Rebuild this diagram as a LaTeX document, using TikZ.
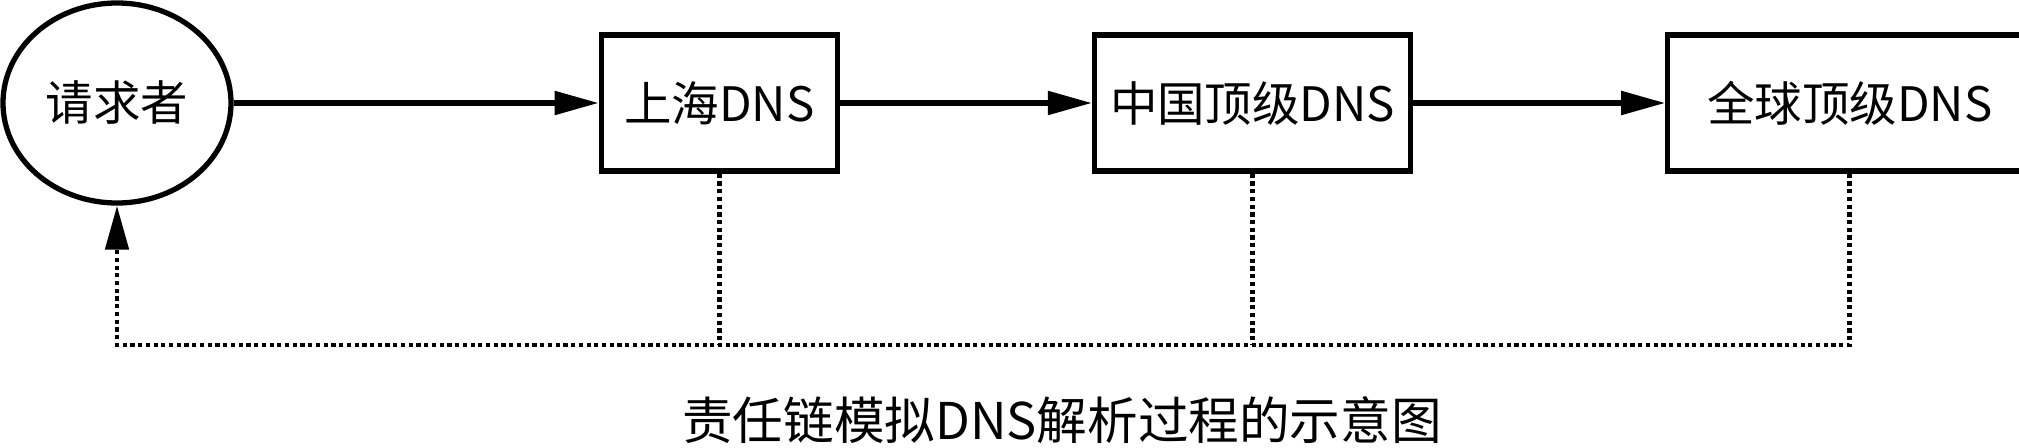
\documentclass[tikz,border=0pt]{standalone}
\usepackage{fontspec}
\setmainfont{Noto Sans CJK SC}
\usepackage{tikz}
\usetikzlibrary{positioning,arrows.meta,shapes.geometric}
\tikzset{
  req/.style={draw, ellipse, line width=1.5pt, minimum width=22.8mm, minimum height=20mm, inner sep=0pt, font=\fontsize{13.5pt}{16pt}\selectfont},
  srv/.style={draw, line width=1.5pt, minimum height=13.6mm, inner sep=2pt, font=\fontsize{13.5pt}{16pt}\selectfont},
  pass/.style={-{Triangle[length=4.4mm, width=2.3mm]}, line width=1.5pt},
  back/.style={line width=1.4pt, dash pattern=on 1.2pt off 1pt},
  title/.style={font=\fontsize{14.4pt}{17pt}\selectfont},
}
\begin{document}
\begin{tikzpicture}[node distance=25.2mm]
\useasboundingbox (0,0) rectangle (20.19,4.47);
\node[req] (asker) at (1.17,3.44) {请求者};
\node[srv, minimum width=23.6mm, right=36.5mm of asker] (shdns) {上海DNS};
\node[srv, minimum width=31.6mm, right=of shdns] (cndns) {中国顶级DNS};
\node[srv, minimum width=36.4mm, right=of cndns] (rootdns) {全球顶级DNS};
\coordinate (busl) at (asker.south |- 0,1.02);
\coordinate (busr) at (rootdns.south |- 0,1.02);
% request passed along the chain
\draw[pass] (asker) -- (shdns);
\draw[pass] (shdns) -- (cndns);
\draw[pass] (cndns) -- (rootdns);
% answers go back to the asker
\draw[back] (shdns.south) -- (shdns.south |- busl);
\draw[back] (cndns.south) -- (cndns.south |- busl);
\draw[back, -{Triangle[length=4.4mm, width=2.3mm]}] (rootdns.south) -- (busr) -- (busl) -- (asker.south);
\node[title] (caption) at (10.62,0.27) {责任链模拟DNS解析过程的示意图};
\end{tikzpicture}
\end{document}
